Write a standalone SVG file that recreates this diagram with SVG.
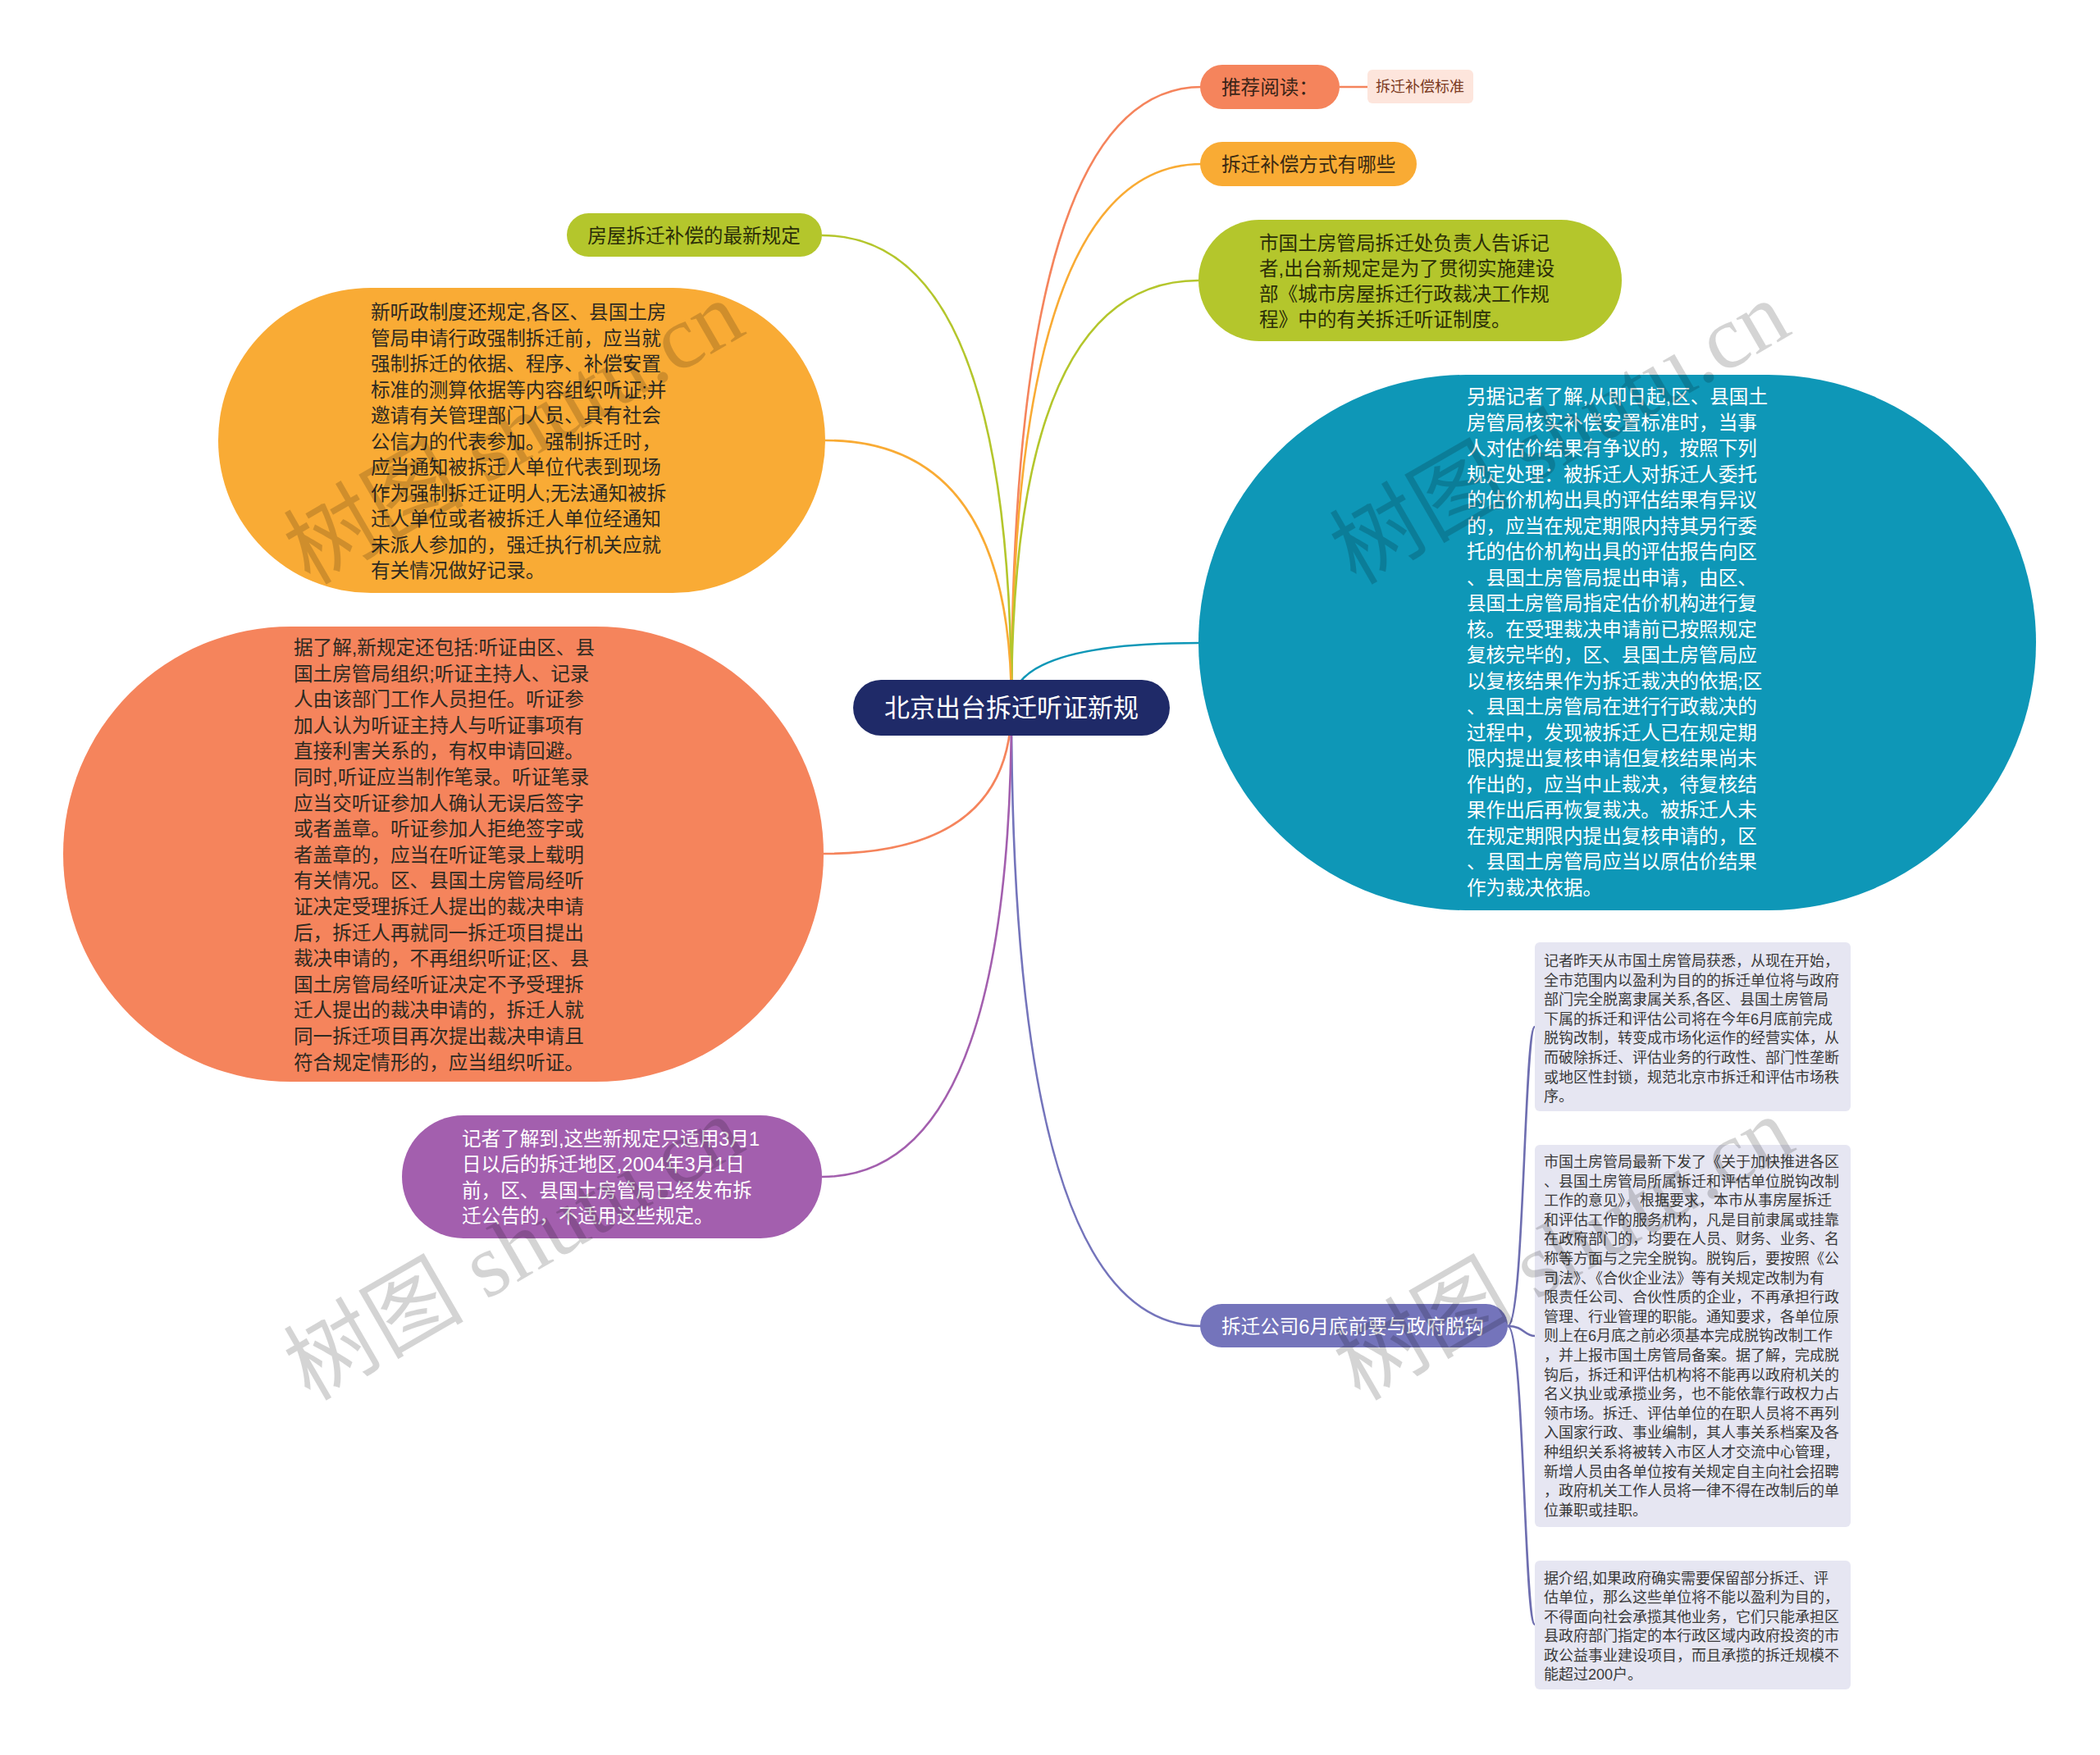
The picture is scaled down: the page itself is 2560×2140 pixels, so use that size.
<svg xmlns="http://www.w3.org/2000/svg" width="2560" height="2140" viewBox="0 0 2560 2140">
<style>
text{font-family:"Liberation Sans","Noto Sans CJK SC",sans-serif;}
.c{fill:none;stroke-width:2.6;}
.t24{font-size:23.6px;}
.dk{fill:#2e2a22;}
.wt{fill:#ffffff;}
.bx{fill:#e6e6f2;}
.bt{font-size:18px;fill:#3a3a3a;}
.wm{font-family:"Liberation Serif","Noto Sans CJK SC",serif;font-size:110px;fill:#000;fill-opacity:0.17;}
</style>
<rect width="2560" height="2140" fill="#ffffff"/>
<g id="connectors">
<path class="c" stroke="#f5845c" d="M1233,861 Q1233,106 1465,106"/>
<path class="c" stroke="#f5845c" d="M1633,106 L1667,106"/>
<path class="c" stroke="#f9ab34" d="M1233,861 Q1233,200 1465,200"/>
<path class="c" stroke="#b4c62c" d="M1233,861 Q1233,342 1461,342"/>
<path class="c" stroke="#0e97b7" d="M1233,861 Q1233,784 1461,784"/>
<path class="c" stroke="#7474bb" d="M1233,861 Q1233,1617 1465,1617"/>
<path class="c" stroke="#b4c62c" d="M1233,861 Q1233,287 1002,287"/>
<path class="c" stroke="#f9ab34" d="M1233,861 Q1233,537 1006,537"/>
<path class="c" stroke="#f5845c" d="M1233,861 Q1233,1041 1004,1041"/>
<path class="c" stroke="#a35fae" d="M1233,861 Q1233,1435 1002,1435"/>
<path class="c" stroke="#6e6eb0" d="M1838,1617 C1858,1617 1858,1252 1871,1252"/>
<path class="c" stroke="#6e6eb0" d="M1838,1617 C1858,1617 1858,1629 1871,1629"/>
<path class="c" stroke="#6e6eb0" d="M1838,1617 C1858,1617 1858,1981 1871,1981"/>
</g>
<g id="center">
<rect x="1040" y="829" width="386" height="68" rx="34" fill="#1f2a68"/>
<text x="1233" y="874" text-anchor="middle" font-size="31" class="wt">北京出台拆迁听证新规</text>
</g>
<g id="n-tuijian">
<rect x="1463" y="79" width="170" height="54" rx="27" fill="#f5845c"/>
<text x="1489" y="115" class="t24" fill="#3a2418">推荐阅读：</text>
</g>
<g id="n-biaozhun">
<rect x="1667" y="85" width="129" height="41" rx="6" fill="#fde5dc"/>
<text x="1677" y="112" font-size="18" fill="#7b3a22">拆迁补偿标准</text>
</g>
<g id="n-fangshi">
<rect x="1463" y="173" width="264" height="54" rx="27" fill="#f9ab34"/>
<text x="1489" y="209" class="t24" fill="#3a2a12">拆迁补偿方式有哪些</text>
</g>
<g id="n-green">
<rect x="1461" y="268" width="516" height="148" rx="74" fill="#b4c62c"/>
<text class="t24" fill="#2b2e08"><tspan x="1535" y="305">市国土房管局拆迁处负责人告诉记</tspan><tspan x="1535" y="336">者,出台新规定是为了贯彻实施建设</tspan><tspan x="1535" y="367">部《城市房屋拆迁行政裁决工作规</tspan><tspan x="1535" y="398">程》中的有关拆迁听证制度。</tspan></text>
</g>
<g id="n-zuixin">
<rect x="691" y="260" width="311" height="53" rx="26.5" fill="#b4c62c"/>
<text x="846" y="296" text-anchor="middle" class="t24" fill="#2b2e08">房屋拆迁补偿的最新规定</text>
</g>
<g id="n-orange">
<rect x="266" y="351" width="740" height="372" rx="186" fill="#f9ab35"/>
<text class="t24 dk"><tspan x="452" y="389">新听政制度还规定,各区、县国土房</tspan><tspan x="452" y="420.5">管局申请行政强制拆迁前，应当就</tspan><tspan x="452" y="452">强制拆迁的依据、程序、补偿安置</tspan><tspan x="452" y="483.5">标准的测算依据等内容组织听证;并</tspan><tspan x="452" y="515">邀请有关管理部门人员、具有社会</tspan><tspan x="452" y="546.5">公信力的代表参加。强制拆迁时，</tspan><tspan x="452" y="578">应当通知被拆迁人单位代表到现场</tspan><tspan x="452" y="609.5">作为强制拆迁证明人;无法通知被拆</tspan><tspan x="452" y="641">迁人单位或者被拆迁人单位经通知</tspan><tspan x="452" y="672.5">未派人参加的，强迁执行机关应就</tspan><tspan x="452" y="704">有关情况做好记录。</tspan></text>
</g>
<g id="n-coral">
<rect x="77" y="764" width="927" height="555" rx="277.5" fill="#f5845c"/>
<text class="t24 dk"><tspan x="358" y="798">据了解,新规定还包括:听证由区、县</tspan><tspan x="358" y="829.6">国土房管局组织;听证主持人、记录</tspan><tspan x="358" y="861.2">人由该部门工作人员担任。听证参</tspan><tspan x="358" y="892.8">加人认为听证主持人与听证事项有</tspan><tspan x="358" y="924.4">直接利害关系的，有权申请回避。</tspan><tspan x="358" y="956">同时,听证应当制作笔录。听证笔录</tspan><tspan x="358" y="987.6">应当交听证参加人确认无误后签字</tspan><tspan x="358" y="1019.2">或者盖章。听证参加人拒绝签字或</tspan><tspan x="358" y="1050.8">者盖章的，应当在听证笔录上载明</tspan><tspan x="358" y="1082.4">有关情况。区、县国土房管局经听</tspan><tspan x="358" y="1114">证决定受理拆迁人提出的裁决申请</tspan><tspan x="358" y="1145.6">后，拆迁人再就同一拆迁项目提出</tspan><tspan x="358" y="1177.2">裁决申请的，不再组织听证;区、县</tspan><tspan x="358" y="1208.8">国土房管局经听证决定不予受理拆</tspan><tspan x="358" y="1240.4">迁人提出的裁决申请的，拆迁人就</tspan><tspan x="358" y="1272">同一拆迁项目再次提出裁决申请且</tspan><tspan x="358" y="1303.6">符合规定情形的，应当组织听证。</tspan></text>
</g>
<g id="n-teal">
<rect x="1461" y="457" width="1021" height="653" rx="326.5" fill="#0e97b7"/>
<text class="t24 wt"><tspan x="1788" y="492">另据记者了解,从即日起,区、县国土</tspan><tspan x="1788" y="523.5">房管局核实补偿安置标准时，当事</tspan><tspan x="1788" y="555">人对估价结果有争议的，按照下列</tspan><tspan x="1788" y="586.5">规定处理：被拆迁人对拆迁人委托</tspan><tspan x="1788" y="618">的估价机构出具的评估结果有异议</tspan><tspan x="1788" y="649.5">的，应当在规定期限内持其另行委</tspan><tspan x="1788" y="681">托的估价机构出具的评估报告向区</tspan><tspan x="1788" y="712.5">、县国土房管局提出申请，由区、</tspan><tspan x="1788" y="744">县国土房管局指定估价机构进行复</tspan><tspan x="1788" y="775.5">核。在受理裁决申请前已按照规定</tspan><tspan x="1788" y="807">复核完毕的，区、县国土房管局应</tspan><tspan x="1788" y="838.5">以复核结果作为拆迁裁决的依据;区</tspan><tspan x="1788" y="870">、县国土房管局在进行行政裁决的</tspan><tspan x="1788" y="901.5">过程中，发现被拆迁人已在规定期</tspan><tspan x="1788" y="933">限内提出复核申请但复核结果尚未</tspan><tspan x="1788" y="964.5">作出的，应当中止裁决，待复核结</tspan><tspan x="1788" y="996">果作出后再恢复裁决。被拆迁人未</tspan><tspan x="1788" y="1027.5">在规定期限内提出复核申请的，区</tspan><tspan x="1788" y="1059">、县国土房管局应当以原估价结果</tspan><tspan x="1788" y="1090.5">作为裁决依据。</tspan></text>
</g>
<g id="n-purple">
<rect x="490" y="1360" width="512" height="150" rx="75" fill="#a35fae"/>
<text class="t24 wt"><tspan x="563" y="1397">记者了解到,这些新规定只适用3月1</tspan><tspan x="563" y="1428.3">日以后的拆迁地区,2004年3月1日</tspan><tspan x="563" y="1459.6">前，区、县国土房管局已经发布拆</tspan><tspan x="563" y="1490.9">迁公告的，不适用这些规定。</tspan></text>
</g>
<g id="n-tuogou">
<rect x="1463" y="1590" width="375" height="53" rx="26.5" fill="#7474bb"/>
<text x="1489" y="1626" class="t24 wt">拆迁公司6月底前要与政府脱钩</text>
</g>
<g id="n-box1">
<rect class="bx" x="1871" y="1149" width="385" height="206" rx="6"/>
<text class="bt"><tspan x="1882" y="1178">记者昨天从市国土房管局获悉，从现在开始，</tspan><tspan x="1882" y="1201.6">全市范围内以盈利为目的的拆迁单位将与政府</tspan><tspan x="1882" y="1225.2">部门完全脱离隶属关系,各区、县国土房管局</tspan><tspan x="1882" y="1248.8">下属的拆迁和评估公司将在今年6月底前完成</tspan><tspan x="1882" y="1272.4">脱钩改制，转变成市场化运作的经营实体，从</tspan><tspan x="1882" y="1296">而破除拆迁、评估业务的行政性、部门性垄断</tspan><tspan x="1882" y="1319.6">或地区性封锁，规范北京市拆迁和评估市场秩</tspan><tspan x="1882" y="1343.2">序。</tspan></text>
</g>
<g id="n-box2">
<rect class="bx" x="1871" y="1396" width="385" height="466" rx="6"/>
<text class="bt"><tspan x="1882" y="1423">市国土房管局最新下发了《关于加快推进各区</tspan><tspan x="1882" y="1446.6">、县国土房管局所属拆迁和评估单位脱钩改制</tspan><tspan x="1882" y="1470.2">工作的意见》，根据要求，本市从事房屋拆迁</tspan><tspan x="1882" y="1493.8">和评估工作的服务机构，凡是目前隶属或挂靠</tspan><tspan x="1882" y="1517.4">在政府部门的，均要在人员、财务、业务、名</tspan><tspan x="1882" y="1541">称等方面与之完全脱钩。脱钩后，要按照《公</tspan><tspan x="1882" y="1564.6">司法》、《合伙企业法》等有关规定改制为有</tspan><tspan x="1882" y="1588.2">限责任公司、合伙性质的企业，不再承担行政</tspan><tspan x="1882" y="1611.8">管理、行业管理的职能。通知要求，各单位原</tspan><tspan x="1882" y="1635.4">则上在6月底之前必须基本完成脱钩改制工作</tspan><tspan x="1882" y="1659">，并上报市国土房管局备案。据了解，完成脱</tspan><tspan x="1882" y="1682.6">钩后，拆迁和评估机构将不能再以政府机关的</tspan><tspan x="1882" y="1706.2">名义执业或承揽业务，也不能依靠行政权力占</tspan><tspan x="1882" y="1729.8">领市场。拆迁、评估单位的在职人员将不再列</tspan><tspan x="1882" y="1753.4">入国家行政、事业编制，其人事关系档案及各</tspan><tspan x="1882" y="1777">种组织关系将被转入市区人才交流中心管理，</tspan><tspan x="1882" y="1800.6">新增人员由各单位按有关规定自主向社会招聘</tspan><tspan x="1882" y="1824.2">，政府机关工作人员将一律不得在改制后的单</tspan><tspan x="1882" y="1847.8">位兼职或挂职。</tspan></text>
</g>
<g id="n-box3">
<rect class="bx" x="1871" y="1903" width="385" height="157" rx="6"/>
<text class="bt"><tspan x="1882" y="1931">据介绍,如果政府确实需要保留部分拆迁、评</tspan><tspan x="1882" y="1954.4">估单位，那么这些单位将不能以盈利为目的，</tspan><tspan x="1882" y="1977.8">不得面向社会承揽其他业务，它们只能承担区</tspan><tspan x="1882" y="2001.2">县政府部门指定的本行政区域内政府投资的市</tspan><tspan x="1882" y="2024.6">政公益事业建设项目，而且承揽的拆迁规模不</tspan><tspan x="1882" y="2048">能超过200户。</tspan></text>
</g>
<g id="watermarks">
<text class="wm" text-anchor="middle" transform="translate(645,560) rotate(-30)">树图 shutu.cn</text>
<text class="wm" text-anchor="middle" transform="translate(1920,560) rotate(-30)">树图 shutu.cn</text>
<text class="wm" text-anchor="middle" transform="translate(645,1555) rotate(-30)">树图 shutu.cn</text>
<text class="wm" text-anchor="middle" transform="translate(1925,1555) rotate(-30)">树图 shutu.cn</text>
</g>
</svg>
